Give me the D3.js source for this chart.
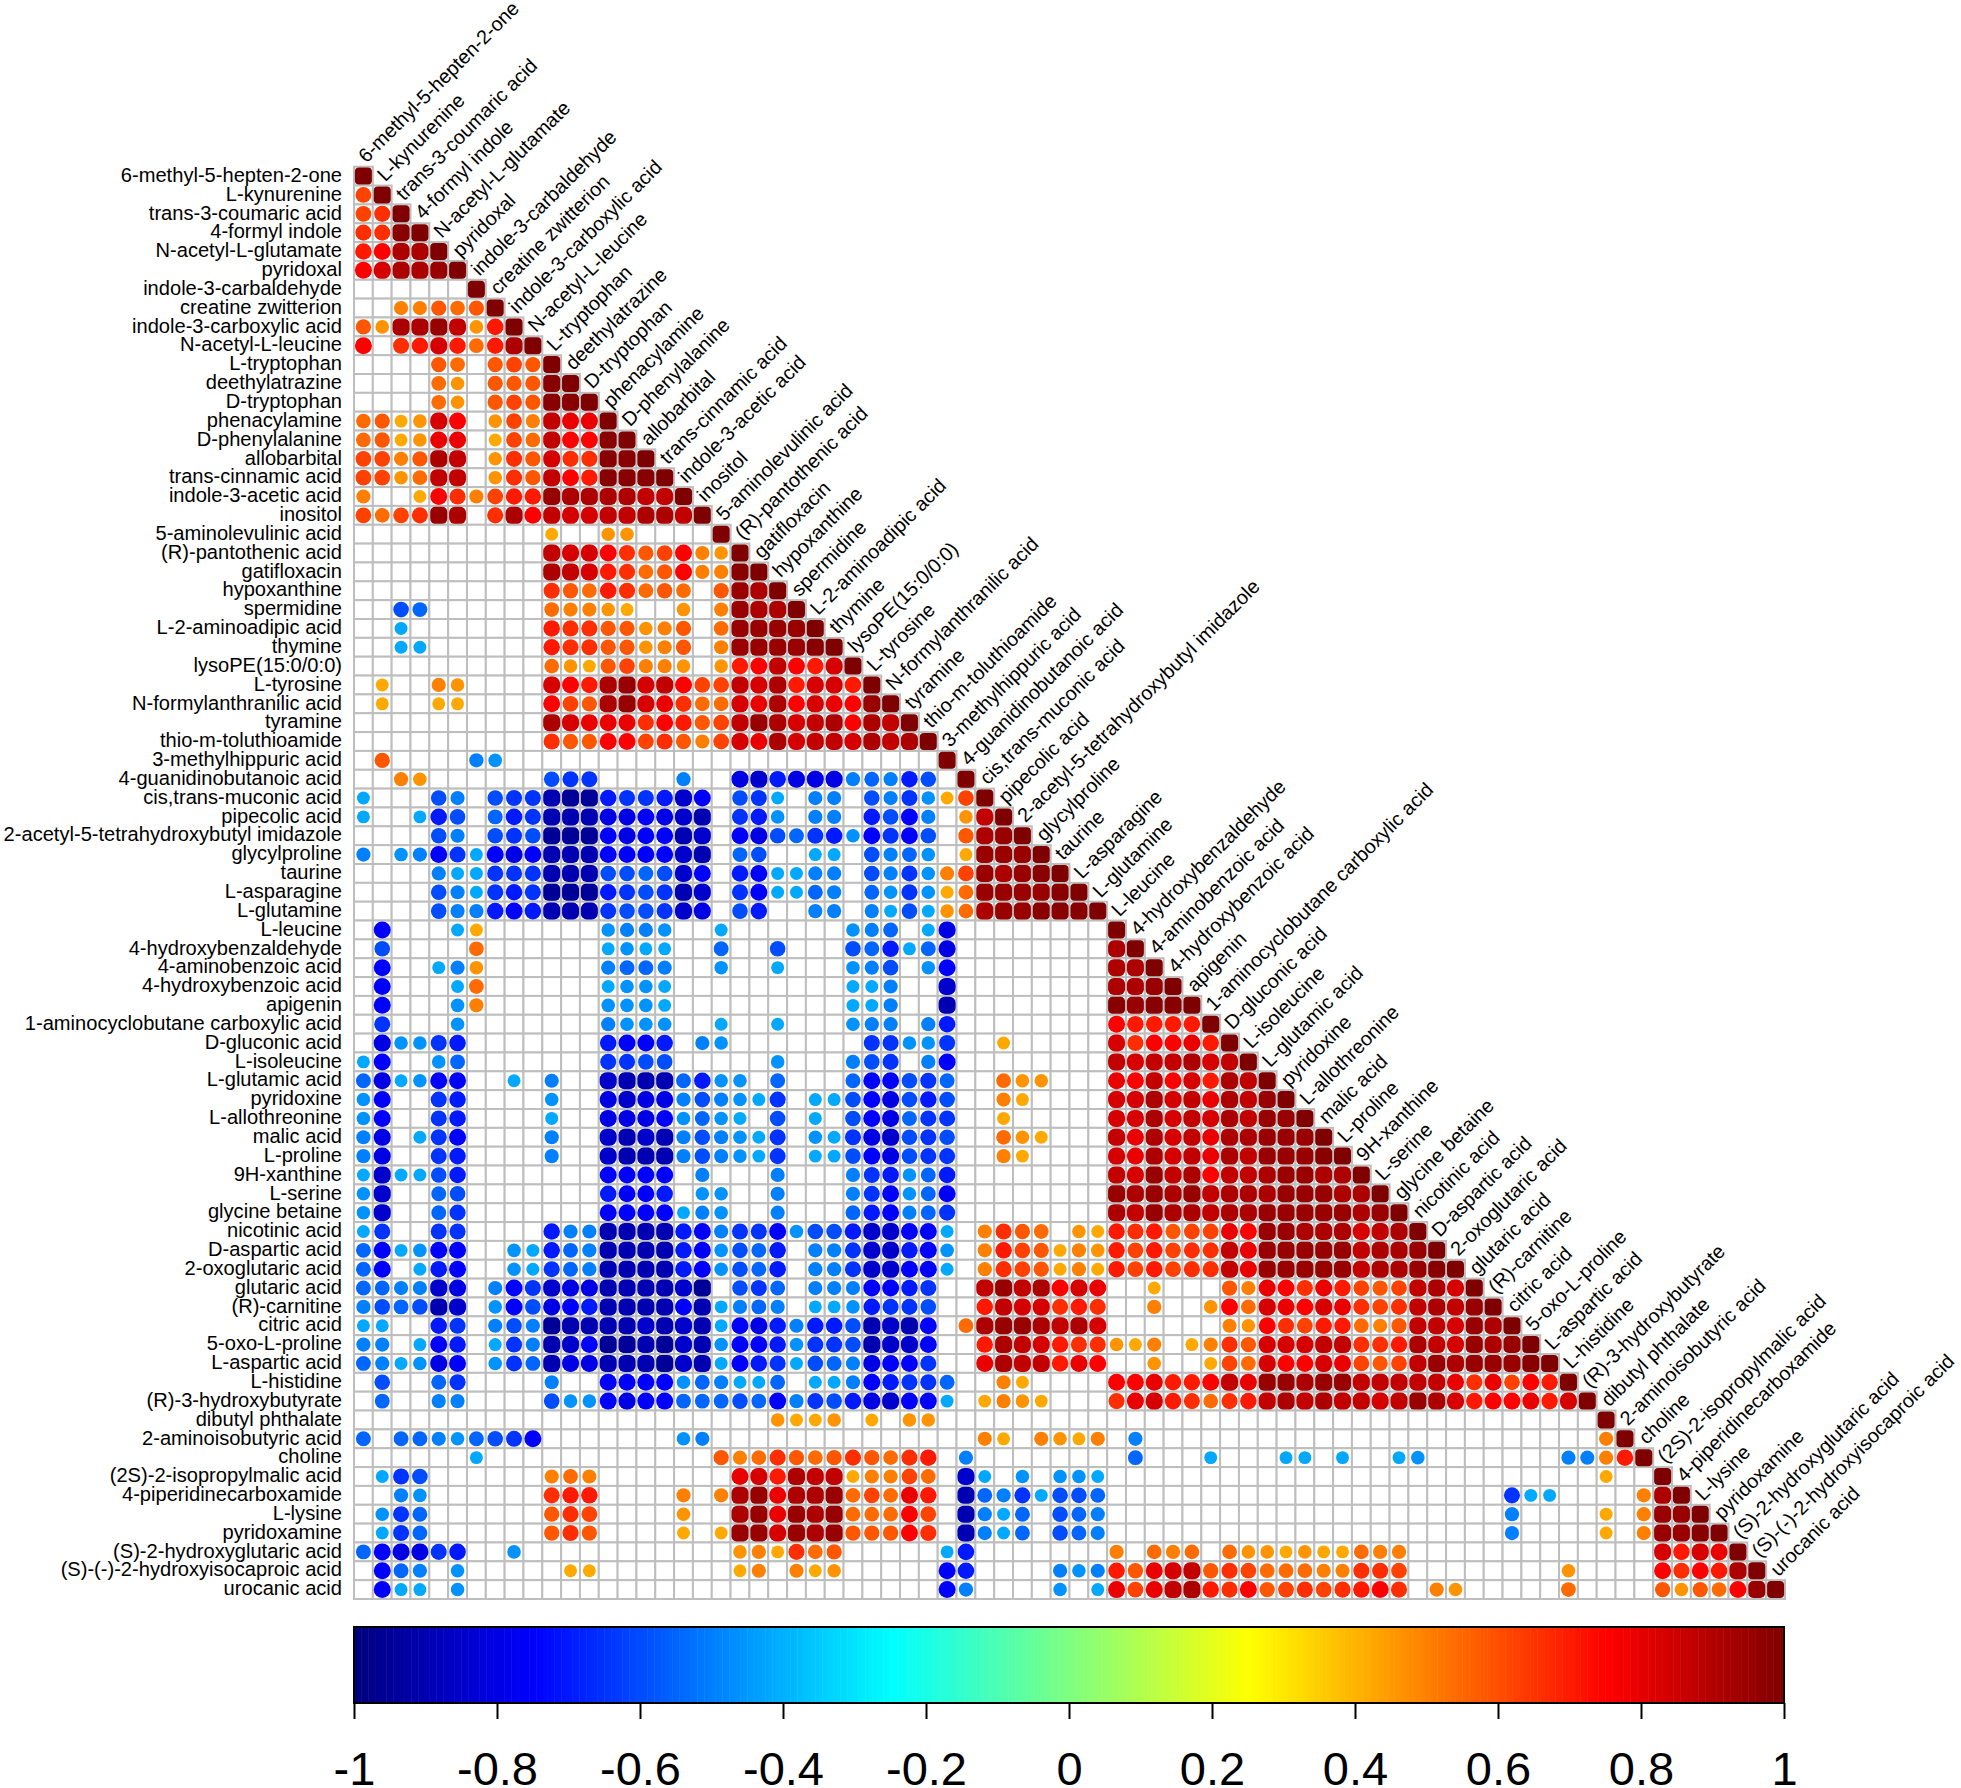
<html>
<head>
<meta charset="utf-8">
<script src="https://d3js.org/d3.v7.min.js"></script>
<style>
body { margin: 0; background: white; }
text { font-family: "Liberation Sans", Arial, sans-serif; fill: black; }
</style>
</head>
<body>
<svg id="plot"></svg>
<script>

// metabolite names, same order on rows and columns
var names = ["6-methyl-5-hepten-2-one","L-kynurenine","trans-3-coumaric acid","4-formyl indole","N-acetyl-L-glutamate","pyridoxal","indole-3-carbaldehyde","creatine zwitterion","indole-3-carboxylic acid","N-acetyl-L-leucine","L-tryptophan","deethylatrazine","D-tryptophan","phenacylamine","D-phenylalanine","allobarbital","trans-cinnamic acid","indole-3-acetic acid","inositol","5-aminolevulinic acid","(R)-pantothenic acid","gatifloxacin","hypoxanthine","spermidine","L-2-aminoadipic acid","thymine","lysoPE(15:0/0:0)","L-tyrosine","N-formylanthranilic acid","tyramine","thio-m-toluthioamide","3-methylhippuric acid","4-guanidinobutanoic acid","cis,trans-muconic acid","pipecolic acid","2-acetyl-5-tetrahydroxybutyl imidazole","glycylproline","taurine","L-asparagine","L-glutamine","L-leucine","4-hydroxybenzaldehyde","4-aminobenzoic acid","4-hydroxybenzoic acid","apigenin","1-aminocyclobutane carboxylic acid","D-gluconic acid","L-isoleucine","L-glutamic acid","pyridoxine","L-allothreonine","malic acid","L-proline","9H-xanthine","L-serine","glycine betaine","nicotinic acid","D-aspartic acid","2-oxoglutaric acid","glutaric acid","(R)-carnitine","citric acid","5-oxo-L-proline","L-aspartic acid","L-histidine","(R)-3-hydroxybutyrate","dibutyl phthalate","2-aminoisobutyric acid","choline","(2S)-2-isopropylmalic acid","4-piperidinecarboxamide","L-lysine","pyridoxamine","(S)-2-hydroxyglutaric acid","(S)-(-)-2-hydroxyisocaproic acid","urocanic acid"];

// correlation, one letter per cell ("." = not significant)
var levelCodes  = ["a","b","c","d","e","f","g","h","i","j","k","l","m","n","o","p",
                   "A","B","C","D","E","F","G","H","I","J","K","L"];
var levelValues = [0.42,0.46,0.50,0.54,0.58,0.62,0.66,0.70,0.75,0.79,0.83,0.87,0.91,0.95,0.98,1,
                   -0.42,-0.46,-0.50,-0.55,-0.60,-0.65,-0.70,-0.75,-0.80,-0.85,-0.90,-0.95];

// lower triangle, spaces split the row every 19 columns
var corrRows = [
"p",
"fp",
"fgp",
"ggop",
"himmp",
"ikmmnp",
"......p",
"..ccedep",
"ebmmnlbhp",
"i.ghkhdhmp",
"....ed.efep",
"....db.eeeop",
"....db.efeoop",
"deabki.bfcljjp",
"deabjj.afdliiop",
"ffceml.bgekggoop",
"ffbdll.bgelihooop",
"c..aigcfhhnmmmmllp",
"fdfgnm.gmilkkllmmlp",
"..........a..bb.... p",
"..........lkkigefic bp",
"..........mlkhgdeic cop",
"..........gedhgded. enmp",
"..ED......dccba..b. cnmmp",
"..A.......hggeebce. dnnnnp",
"..AA......hggeebce. cnnnnop",
"..........dbaefccb. bhilihkp",
".a..cb....kihmnklif flkmhkkhp",
".a..aa....ifemnkjgd dkjmikjinp",
"..........mkjjjgihe flnmklmimlp",
"..........geeiifgec fkjmkllkmlmp",
".e....CB........... ............p",
"..cb......EFF....C. .IJGIIICDCGE.p",
"A...EC.EFFKLLGFFGJH .EFA.CC.ECFBafp",
"A..AGE.DGFKKKIIHIJK .FGB.CC.GEHC.blp",
"....EC.EFELLLHIHHKJ .HIEDFGBHFHE.emnp",
"C.BCHFAHIHKKKHHHHJK .DE..AA.ECDB.annnp",
"....CAAFFFKKKEEDEJH .GHAACC.ECFBcfnmnop",
"....ECAFGFLLLGFEFKJ .FHAADC.DBFBadnnnno p",
"....ECCGHGKKKFEEFJI .EG..CC.CAEAbdmnnoo op",
".H...Aa......BCCB.. A......BCD.AI...... ..p",
".E....d......ABAA.. D..E...EDGADI...... ..mp",
".H..ACb......CDDC.. B..A...BCE.BH...... ..mmp",
".H...Ad......ABBA.. .......AAC..J...... ..mmnp",
".H...Bc......BBBA.. .......AAC..K...... ..onoop",
".F...B.......CBBB.. A..A...BCC.CG...... ..ihhhhp",
".IBBFG.......GHHG.C B.......FFBBF..a... ..kgiijhp",
"AH..BD.......FFEE.. ...B...CEF.CH...... ..lkllmklp",
"DIABHH..A.C..JKKKDG BB.D...DHHEFD..dbb. ..jilikhmlp",
"BH..FG....B..IJIICE CBAF.AAEHIEGE..ca.. ..kkmkljmlnp",
"BH..FG....A..IIIHBD BA.E.A.EHIDFF..a... ..kkmklkmlnnp",
"CI.AFH....C..JKJKCE CBAF.BAFIJEFE..dba. ..ljmkljmmnnnp",
"CI..FG....C..JKKKCE CBAF.AAEHIEFF..ca.. ..kjmkljmlnnnop",
"AJAAEG.......HHHH.C ...C...CFGBDG...... ..lknlmillmnnmmp",
"BJ..DE.......GHHG.B B..C...CFHBDH...... ..nmnmnlmmmnnnmmp",
"BJ..DF.......HHHHAC B..C...DGHCDF...... ..mlnmmlmmnnnnnmnp",
"AF..FF....GCCKKKKGH CFFHBEEGJJHHA.cged. bahgheffjinnmmmklmp",
"DHABHH..BAGDCKKKKGH BEDG.CCFJJGHB.chfea cbhfhfggljnnnnnlmmn p",
"DH.AGH..BAFDCKKKKGH BEDG.CCFJJHHA.cgfea cahfhfggljnnnnnlmmn op",
"DDCCJI.CHFJIIKKKKJL .EFD.CCCHHGF..lnlmi kj..a...ecjigjhfefl mkp",
"CEDEKJ.BHEIHGKKKKHK ACDC.AABGFFE..hlkkg hg..c..bidkjikjgfgl mlnp",
"AA..GF.CECLKKKKJKJK AHIGCGGEKJKH.dmnnml mk......cbigfhhdcel lknmp",
"CC.AHG.AFCKJHLLKLJK BHHGBFFEKJJH..hmlkh ggbac.acgekkkllgghm lknmnp",
"DCABIH.BFDKIIKKKLJK AHGFAEDCIHHF..jmllh ji..b..afdkiikjfefl nmnnnop",
".E..DF....C..HHHHBD CAAD.AACHGFFD..ca.. ..iijhhiljnnmnnllll ljgjfihp",
".D..CC....EBBHIHHDD DEDHCFEGIJHHA.acba. ..gjkhgdghlmlmllkln mkhiijhkp",
"................... ...baab.a.bb....... ................... .........p",
"D.DDCBDEFH.......BC ..............ca.cb ac.C............... .........cp",
"......A............ ecdgedegedgh.C..... ...D...A...AA.A..AB .......CCchp",
".AFE......cdc...... .jkhmllaccfd.JA.B.B BA................. .........a..p",
"..CB......ghh....c. cmnjmmndfdjh.KDCFAE ED................. ....FAA....cmp",
".BFD......egf....b. .mnjnmndddif.KCAD.E DC................. ....C....a.cnnp",
".AFD......ege....a. annknmneeeig.KCAD.E DC................. ....C....a.cnnop",
"DHIIFG..B.......... .bcagde.....AG..... ..c.dcd.dbbabaadcc. ............khkjp",
".HDC.B.....aa...... .ac.cab.....HG....C BChejklegfdddccggf. .......b....igihmp",
".HAA.B............. ............HC....B .Ajfjlmhgiefgfghig. cb.....d....ebedinp"
];

// colour ramp of the bar
var rampValues = [-1,-0.75,-0.5,-0.25,0,0.25,0.5,0.75,1];
var rampColors = ["#00007F","#0000FF","#007FFF","#00FFFF","#7FFF7F","#FFFF00","#FF7F00","#FF0000","#7F0000"];
var barTicks = [-1,-0.8,-0.6,-0.4,-0.2,0,0.2,0.4,0.6,0.8,1];

var width = 1961;
var height = 1788;

var gridLeft = 354;
var gridRight = 1785;
var gridTop = 166.7;
var gridBottom = 1599;

var svg = d3.select("#plot")
    .attr("width", width)
    .attr("height", height)
    .style("display", "block");

//scales
var xScale = d3.scaleBand().domain(names).range([gridLeft, gridRight]);
var yScale = d3.scaleBand().domain(names).range([gridTop, gridBottom]);

var colorScale = d3.scaleLinear()
    .domain(rampValues)
    .range(rampColors);

// mark size grows with |r|; the strongest ones turn into rounded squares
var sizeScale = d3.scaleLinear()
    .domain([0.4,0.5,0.6,0.75,1])
    .range([12.6,14.2,15.6,17,17]);
var cornerScale = d3.scaleLinear()
    .domain([0.78,0.9,1])
    .range([8.5,6,4])
    .clamp(true);

var codeToValue = d3.scaleOrdinal().domain(levelCodes).range(levelValues);

// turn the rows into cells
var cells = [];
corrRows.forEach(function(row, i) {
    row.replace(/ /g, "").split("").forEach(function(code, j) {
        cells.push({
            row: names[i],
            col: names[j],
            value: code === "." ? null : codeToValue(code)
        });
    });
});

//grid
svg.append("g")
    .selectAll("rect")
    .data(cells)
    .enter()
    .append("rect")
    .attr("x", function(d) { return xScale(d.col); })
    .attr("y", function(d) { return yScale(d.row); })
    .attr("width", xScale.bandwidth())
    .attr("height", yScale.bandwidth())
    .attr("fill", "white")
    .attr("stroke", "#BEBEBE")
    .attr("stroke-width", 2);

//marks
svg.append("g")
    .selectAll("rect")
    .data(cells.filter(function(d) { return d.value !== null; }))
    .enter()
    .append("rect")
    .attr("x", function(d) { return xScale(d.col) + xScale.bandwidth() / 2 - sizeScale(Math.abs(d.value)) / 2; })
    .attr("y", function(d) { return yScale(d.row) + yScale.bandwidth() / 2 - sizeScale(Math.abs(d.value)) / 2; })
    .attr("width", function(d) { return sizeScale(Math.abs(d.value)); })
    .attr("height", function(d) { return sizeScale(Math.abs(d.value)); })
    .attr("rx", function(d) { return Math.min(cornerScale(Math.abs(d.value)), sizeScale(Math.abs(d.value)) / 2); })
    .attr("fill", function(d) { return colorScale(d.value); });

//row labels
svg.append("g")
    .selectAll("text")
    .data(names)
    .enter()
    .append("text")
    .attr("x", gridLeft - 12)
    .attr("y", function(d) { return yScale(d) + yScale.bandwidth() / 2 + 5.7; })
    .attr("text-anchor", "end")
    .attr("font-size", 20.1)
    .text(function(d) { return d; });

//column labels, sitting on the diagonal
svg.append("g")
    .selectAll("text")
    .data(names)
    .enter()
    .append("text")
    .attr("transform", function(d) {
        return "translate(" + (xScale(d) + xScale.bandwidth() / 2 + 3) + "," + (yScale(d) - 3) + ") rotate(-45)";
    })
    .attr("font-size", 19.8)
    .text(function(d) { return d; });

//colour bar
var barTop = 1627;
var barBottom = 1703;
var barScale = d3.scaleLinear().domain([-1, 1]).range([gridLeft, gridRight - 1]);
var barSteps = d3.range(-1, 1, 2 / 400);

svg.append("g")
    .selectAll("rect")
    .data(barSteps)
    .enter()
    .append("rect")
    .attr("x", function(d) { return barScale(d); })
    .attr("y", barTop)
    .attr("width", barScale(2 / 400 - 1) - barScale(-1) + 0.5)
    .attr("height", barBottom - barTop)
    .attr("fill", function(d) { return colorScale(d); });

svg.append("rect")
    .attr("x", barScale(-1))
    .attr("y", barTop)
    .attr("width", barScale(1) - barScale(-1))
    .attr("height", barBottom - barTop)
    .attr("fill", "none")
    .attr("stroke", "black")
    .attr("stroke-width", 2);

var barAxis = d3.axisBottom(barScale)
    .tickValues(barTicks)
    .tickSize(16)
    .tickPadding(33)
    .tickFormat(function(d) { return String(d); });

var axisGroup = svg.append("g")
    .attr("transform", "translate(0," + barBottom + ")")
    .call(barAxis);

axisGroup.select(".domain").remove();
axisGroup.selectAll("line").attr("stroke", "black").attr("stroke-width", 2);
axisGroup.selectAll("text")
    .attr("font-size", 47)
    .attr("font-family", "Liberation Sans");

</script>
</body>
</html>
